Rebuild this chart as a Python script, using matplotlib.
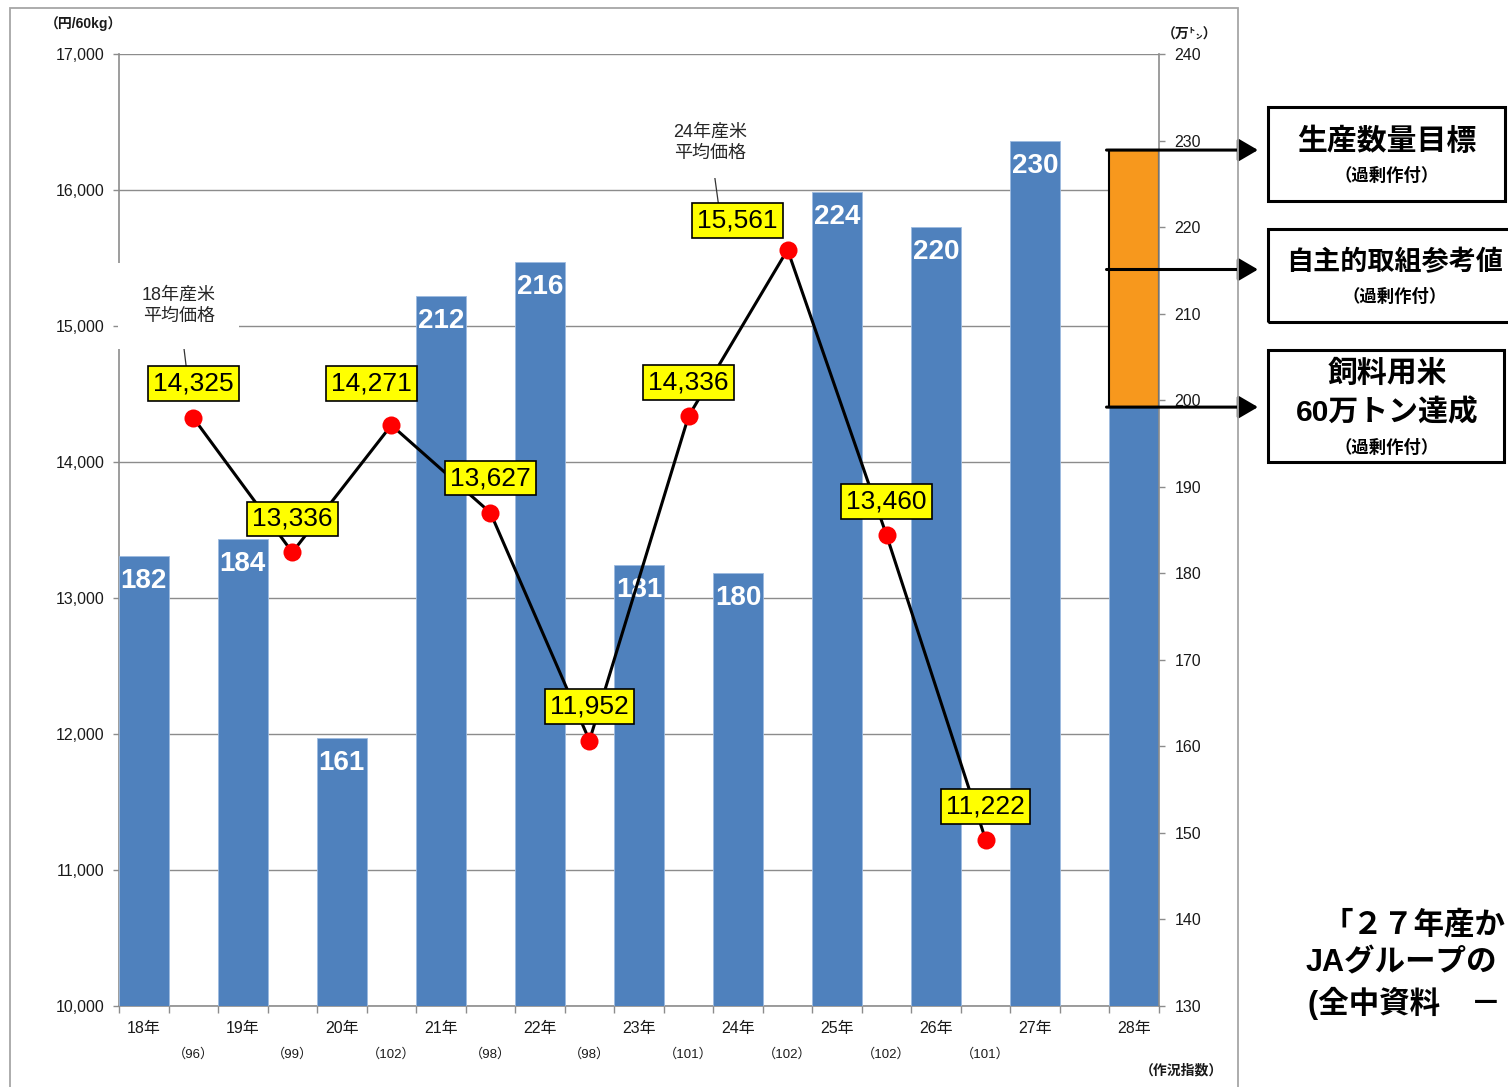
import numpy as np
import matplotlib.pyplot as plt
from matplotlib.patches import Rectangle
from matplotlib.ticker import FuncFormatter, MultipleLocator

plt.rcParams['font.family'] = ['Liberation Sans', 'Noto Sans CJK JP', 'DejaVu Sans']

# 年産ごとの生産量（万トン）と平均価格（円/60kg）
years = ['18年', '19年', '20年', '21年', '22年', '23年', '24年', '25年', '26年', '27年', '28年']
volume = [182, 184, 161, 212, 216, 181, 180, 224, 220, 230]
volume_labels = ['182', '184', '161', '212', '216', '181', '180', '224', '220', '230']
feed_rice_level = 199.2      # 飼料用米60万トン達成時
voluntary_level = 215.1      # 自主的取組参考値
target_level = 228.9         # 生産数量目標
price = [14325, 13336, 14271, 13627, 11952, 14336, 15561, 13460, 11222]
price_labels = ['14,325', '13,336', '14,271', '13,627', '11,952', '14,336', '15,561', '13,460', '11,222']
crop_index = ['（96）', '（99）', '（102）', '（98）', '（98）', '（101）', '（102）', '（102）', '（101）']

# ラベル位置の調整（points）
label_offsets = [(0, 24.5), (0, 24), (-14.4, 30), (0, 25), (0, 24.5),
                 (0, 24.5), (-36, 21), (0, 24.5), (0, 24)]

W, H = 1508, 1087
fig = plt.figure(figsize=(W / 100, H / 100), dpi=100)

grid_c = '#8c8c8c'
txt_c = '#1a1a1a'
ax = fig.add_axes([119 / W, 81 / H, 1040 / W, 952 / H])
ax.set_xlim(-0.25, 10.25)
ax.set_ylim(10000, 17000)
ax.yaxis.set_major_locator(MultipleLocator(1000))
ax.yaxis.set_major_formatter(FuncFormatter(lambda v, p: f'{v:,.0f}'))
ax.grid(axis='y', color=grid_c, lw=1)
ax.set_axisbelow(True)
for s in ['top', 'right']:
    ax.spines[s].set_visible(False)
for s in ['left', 'bottom']:
    ax.spines[s].set_color(grid_c)
    ax.spines[s].set_linewidth(1.2)
ax.tick_params(axis='y', length=4.5, width=1, color=grid_c, pad=6,
               labelsize=11.5, labelcolor=txt_c)
ax.set_xticks(np.arange(len(years)))
ax.set_xticklabels(years)
ax.set_xticks(np.arange(-0.25, 10.3, 0.5), minor=True)
ax.tick_params(axis='x', which='major', length=0, pad=11, labelsize=11.5, labelcolor=txt_c)
ax.tick_params(axis='x', which='minor', length=5, width=1, color=grid_c)

# 作況指数
for i, t in enumerate(crop_index):
    ax.annotate(t, xy=(i + 0.5, 0), xycoords=('data', 'axes fraction'),
                xytext=(0, -35), textcoords='offset points',
                ha='center', va='center', fontsize=9.5, color=txt_c,
                annotation_clip=False)
fig.text(1181 / W, 1 - 1071 / H, '（作況指数）', ha='center', va='center',
         fontsize=10, fontweight='bold', color=txt_c)

# 生産量の棒（右軸）
ax_bar = ax.twinx()
ax_bar.set_ylim(130, 240)
ax_bar.yaxis.set_major_locator(MultipleLocator(10))
for s in ['top', 'left', 'bottom']:
    ax_bar.spines[s].set_visible(False)
ax_bar.spines['right'].set_color(grid_c)
ax_bar.spines['right'].set_linewidth(1.2)
ax_bar.tick_params(axis='y', length=4.5, width=1, color=grid_c, pad=6.5,
                   labelsize=11.5, labelcolor=txt_c)

x = np.arange(len(years))
ax_bar.bar(x, volume + [feed_rice_level], width=0.5, color='#4f81bd',
           edgecolor='#9dbbe0', lw=0.6)
ax_bar.bar(x[-1], target_level - feed_rice_level, bottom=feed_rice_level,
           width=0.5, color='#f7981d', edgecolor='black', lw=1.5)
for i, (v, t) in enumerate(zip(volume, volume_labels)):
    ax_bar.annotate(t, xy=(i, v), xytext=(0, -18), textcoords='offset points',
                    ha='center', va='center', color='white', fontsize=20,
                    fontweight='bold')

# 右側の矢印
for lvl in [target_level, voluntary_level, feed_rice_level]:
    ax_bar.annotate('', xy=(1258 / W, lvl), xycoords=('figure fraction', 'data'),
                    xytext=(9.72, lvl), textcoords='data',
                    arrowprops=dict(arrowstyle='-|>,head_length=0.6,head_width=0.35',
                                    color='black', lw=2.2, mutation_scale=20,
                                    shrinkA=0, shrinkB=0),
                    annotation_clip=False, zorder=6)

# 平均価格の折れ線（左軸）
ax_line = ax.twinx()
ax_line.set_ylim(10000, 17000)
ax_line.yaxis.set_visible(False)
for s in ax_line.spines.values():
    s.set_visible(False)
px = np.arange(len(price)) + 0.5
ax_line.plot(px, price, color='black', lw=2.2, zorder=3)
ax_line.plot(px, price, 'o', color='#ff0000', ms=13, mec='none', zorder=4)

labels = []
for xi, v, t, off in zip(px, price, price_labels, label_offsets):
    a = ax_line.annotate(t, xy=(xi, v), xytext=off, textcoords='offset points',
                         ha='center', va='center', fontsize=19, color='black',
                         bbox=dict(boxstyle='square,pad=0.2', fc='#ffff00',
                                   ec='black', lw=1.2),
                         zorder=6)
    labels.append(a)

ax_line.annotate('18年産米\n平均価格', xy=(0.42, 1.0), xycoords=labels[0],
                 xytext=(-5.8, 47.5), textcoords='offset points',
                 ha='center', va='center', fontsize=13, color='#262626',
                 linespacing=1.35,
                 bbox=dict(boxstyle='square,pad=1.3', fc='white', ec='none'),
                 arrowprops=dict(arrowstyle='-', color='#333333', lw=0.9,
                                 shrinkA=0, shrinkB=0),
                 zorder=5, annotation_clip=False)
ax_line.annotate('24年産米\n平均価格', xy=(0.27, 1.0), xycoords=labels[6],
                 xytext=(-6.5, 47.5), textcoords='offset points',
                 ha='center', va='center', fontsize=13, color='#262626',
                 linespacing=1.35,
                 bbox=dict(boxstyle='square,pad=0.9', fc='white', ec='none'),
                 arrowprops=dict(arrowstyle='-', color='#333333', lw=0.9,
                                 shrinkA=0, shrinkB=0),
                 zorder=5, annotation_clip=False)

# 軸の単位
fig.text(84 / W, 1 - 24 / H, '（円/60kg）', ha='center', va='center',
         fontsize=10, fontweight='bold', color=txt_c)
fig.text(1190 / W, 1 - 35 / H, '（万㌧）', ha='center', va='center',
         fontsize=10, fontweight='bold', color=txt_c)

# 外枠
fig.add_artist(Rectangle((10 / W, -0.01), 1228 / W, 1 - 8 / H + 0.01,
                         transform=fig.transFigure, fill=False,
                         ec='#a6a6a6', lw=1.3))


# 右側の説明ボックス
def note_box(x0, y0, x1, y1, lines):
    fig.add_artist(Rectangle((x0 / W, 1 - y1 / H), (x1 - x0) / W, (y1 - y0) / H,
                             transform=fig.transFigure, fill=False,
                             ec='black', lw=2.2))
    for cx, cy, t, fs in lines:
        fig.text(cx / W, 1 - cy / H, t, ha='center', va='center',
                 fontsize=fs, fontweight='bold', color='black')


note_box(1268, 107, 1505, 201, [(1387, 142, '生産数量目標', 21.5),
                                (1387, 175, '（過剰作付）', 12.5)])
note_box(1268, 229, 1520, 322, [(1395, 263, '自主的取組参考値', 19.5),
                                (1395, 296, '（過剰作付）', 12.5)])
note_box(1268, 350, 1504, 462, [(1387, 374, '飼料用米', 21.5),
                                (1387, 413, '60万トン達成', 21.5),
                                (1387, 447, '（過剰作付）', 12.5)])

# 出典
for y, t, x0 in [(925, '「２７年産か', 1323), (963, 'JAグループの', 1306),
                 (1003, '(全中資料　－', 1308)]:
    fig.text(x0 / W, 1 - y / H, t, ha='left', va='center', fontsize=22,
             fontweight='bold', color='black')

fig.savefig('out.png', dpi=100)
